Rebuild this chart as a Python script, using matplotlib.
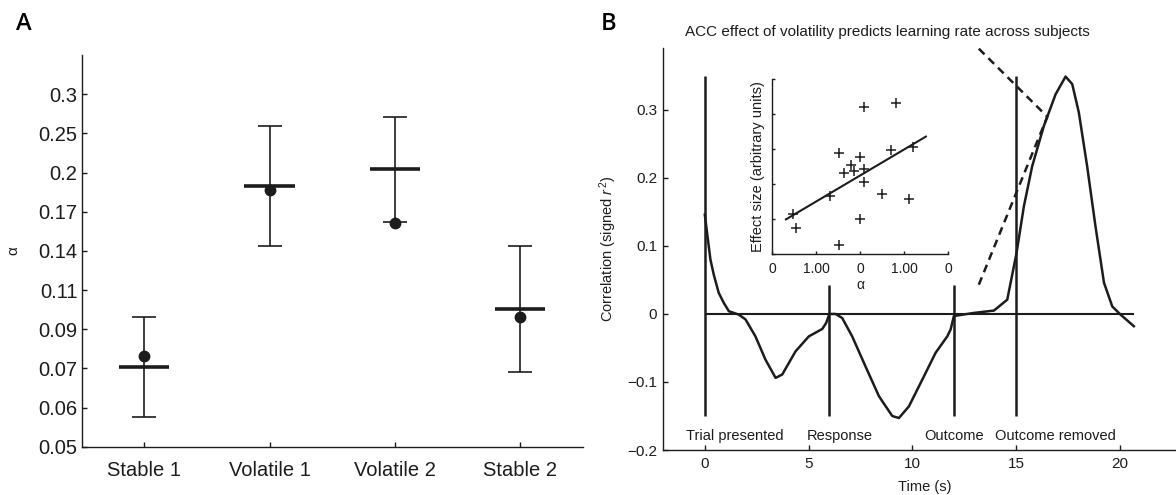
import matplotlib.pyplot as plt
import numpy as np

plt.rcParams['font.family'] = ['Liberation Sans', 'DejaVu Sans']
plt.rcParams['mathtext.fontset'] = 'custom'
plt.rcParams['mathtext.rm'] = 'Liberation Sans'
plt.rcParams['mathtext.it'] = 'Liberation Sans:italic'

ink = '#1c1c1c'

# --- A: learning rate per block (log-spaced axis) ---
blocks = ['Stable 1', 'Volatile 1', 'Volatile 2', 'Stable 2']
alpha_mean = [0.0748, 0.188, 0.2056, 0.1007]
alpha_dot = [0.079, 0.1847, 0.1561, 0.0965]
alpha_lo = [0.058, 0.1385, 0.1569, 0.0728]
alpha_hi = [0.0965, 0.2559, 0.2687, 0.139]
alpha_tick_labels = ['0.05', '0.06', '0.07', '0.09', '0.11', '0.14', '0.17', '0.2', '0.25', '0.3']

# --- B: correlation time course ---
t_s = [0, 0.11, 0.27, 0.43, 0.67, 0.92, 1.16, 1.64, 1.96, 2.44, 2.92, 3.41, 3.73,
       4.37, 5.01, 5.66, 5.85, 6.0, 6.3, 6.62, 7.1, 7.74, 8.39, 9.03, 9.35, 9.83,
       10.47, 11.12, 11.68, 11.84, 12.0, 12.96, 13.93, 14.57, 15.02, 15.37, 15.77,
       16.33, 16.9, 17.38, 17.7, 18.02, 18.42, 18.82, 19.23, 19.63, 20.03, 20.67]
corr = [0.146, 0.119, 0.08, 0.058, 0.031, 0.016, 0.004, -0.001, -0.008, -0.033,
        -0.067, -0.094, -0.089, -0.055, -0.033, -0.022, -0.013, 0.0, 0.0, -0.006,
        -0.033, -0.077, -0.121, -0.15, -0.153, -0.136, -0.097, -0.057, -0.033,
        -0.023, -0.003, 0.0015, 0.005, 0.021, 0.09, 0.158, 0.217, 0.276, 0.323,
        0.349, 0.338, 0.296, 0.217, 0.129, 0.046, 0.011, -0.001, -0.018]
events = [0, 6, 12, 15]
event_top = [0.35, 0.043, 0.043, 0.35]
event_names = ['Trial presented', 'Response', 'Outcome', 'Outcome removed']
event_label_t = [-0.93, 4.93, 10.55, 14.0]

# inset: per-subject learning rate vs ACC effect
subj_alpha = [-1.523, -1.47, -0.682, -0.492, -0.485, -0.364, -0.22, -0.152, -0.008,
              -0.015, 0.083, 0.083, 0.076, 0.5, 0.69, 0.81, 1.098, 1.19]
subj_effect = [1.14, 0.74, 1.65, 0.25, 2.88, 2.32, 2.55, 2.37, 2.79,
               0.99, 4.20, 2.43, 2.06, 1.71, 2.98, 4.31, 1.57, 3.06]
fit_slope, fit_intercept = 0.745, 2.25
fit_span = [-1.69, 1.49]
inset_tick_labels = ['0', '1.00', '0', '1.00', '0']

# callout from the title down to the peak
callout_t = [13.2, 16.5, 13.2]
callout_v = [0.39, 0.29, 0.043]

W, H = 1176, 495
fig = plt.figure(figsize=(W / 100, H / 100), dpi=100)


def box(l, r, b, t):
    return [l / W, 1 - b / H, (r - l) / W, (b - t) / H]


def style(ax, size, length=3.5):
    for s in ['top', 'right']:
        ax.spines[s].set_visible(False)
    for s in ['left', 'bottom']:
        ax.spines[s].set_color(ink)
        ax.spines[s].set_linewidth(1.0)
    ax.tick_params(direction='in', length=length, width=1.0, color=ink,
                   labelsize=size, labelcolor=ink)


# panel A
axA = fig.add_axes(box(81.7, 582.5, 446.7, 55))
style(axA, 14.5)
xa = np.arange(1, len(blocks) + 1)
mean = np.array(alpha_mean)
axA.errorbar(xa, mean, yerr=[mean - np.array(alpha_lo), np.array(alpha_hi) - mean],
             fmt='none', ecolor=ink, elinewidth=1.2, capsize=8.6, capthick=1.2)
axA.hlines(mean, xa - 0.2, xa + 0.2, color=ink, lw=2.6)
axA.plot(xa, alpha_dot, 'o', color=ink, ms=7.5)
axA.set_yscale('log')
axA.set_ylim(np.exp(-3), np.exp(-1))
axA.set_yticks(np.exp(np.arange(-3.0, -1.1, 0.2)))
axA.set_yticklabels(alpha_tick_labels)
axA.minorticks_off()
axA.set_xlim(0.5, 4.5)
axA.set_xticks(xa)
axA.set_xticklabels(blocks, fontsize=14.5)
axA.tick_params(axis='x', pad=10)
axA.tick_params(axis='y', pad=3)
axA.set_ylabel('α', fontsize=11, color=ink)
axA.yaxis.set_label_coords(-0.122, 0.5)

# panel B
axB = fig.add_axes(box(663.3, 1176, 450, 48))
style(axB, 11)
axB.set_xlim(-2, 22.7)
axB.set_ylim(-0.2, 0.391)
axB.set_xticks([0, 5, 10, 15, 20])
axB.set_yticks([-0.2, -0.1, 0, 0.1, 0.2, 0.3])
axB.set_yticklabels(['\u22120.2', '\u22120.1', '0', '0.1', '0.2', '0.3'])
axB.tick_params(axis='y', pad=4.5)
axB.tick_params(axis='x', pad=5)
axB.hlines(0, 0, t_s[-1], color=ink, lw=1.5)
axB.vlines(events, -0.15, event_top, color=ink, lw=1.8)
axB.plot(t_s, corr, color=ink, lw=1.8)
axB.plot(callout_t, callout_v, color=ink, lw=1.8, dashes=(3.2, 2.2), clip_on=False)
for name, tx in zip(event_names, event_label_t):
    axB.text(tx, -0.18, name, ha='left', va='center', fontsize=10.5, color=ink)
axB.set_xlabel('Time (s)', fontsize=10.5, color=ink)
axB.xaxis.set_label_coords(0.51, -0.075)
axB.set_ylabel('Correlation (signed $\\mathit{r}^{\\,2}$)', fontsize=10.5, color=ink)
axB.yaxis.set_label_coords(-0.086, 0.5)

# inset scatter
axI = fig.add_axes(box(772.3, 948.3, 254, 79.3))
style(axI, 10, length=2.5)
axI.patch.set_alpha(0)
axI.plot(subj_alpha, subj_effect, '+', color=ink, ms=7, mew=1.1)
fx = np.array(fit_span)
axI.plot(fx, fit_intercept + fit_slope * fx, color=ink, lw=1.5)
axI.set_xlim(-2, 2)
axI.set_ylim(0, 5)
axI.set_xticks([-2, -1, 0, 1, 2])
axI.set_xticklabels(inset_tick_labels)
axI.set_yticks(range(6))
axI.set_yticklabels([])
axI.tick_params(axis='x', pad=6)
axI.set_xlabel('α', fontsize=10, color=ink)
axI.xaxis.set_label_coords(0.5, -0.14)
axI.set_ylabel('Effect size (arbitrary units)', fontsize=10.5, color=ink)
axI.yaxis.set_label_coords(-0.04, 0.5)

fig.text(685 / W, 1 - 31.7 / H,
         'ACC effect of volatility predicts learning rate across subjects',
         ha='left', va='center', fontsize=11, color=ink)
fig.text(24 / W, 1 - 23.5 / H, 'A', ha='center', va='center', fontsize=17,
         family=['Open Sans', 'DejaVu Sans'], fontweight='semibold', color='black')
fig.text(609 / W, 1 - 23.5 / H, 'B', ha='center', va='center', fontsize=17,
         family=['Open Sans', 'DejaVu Sans'], fontweight='semibold', color='black')

fig.savefig('out.png', dpi=100)
